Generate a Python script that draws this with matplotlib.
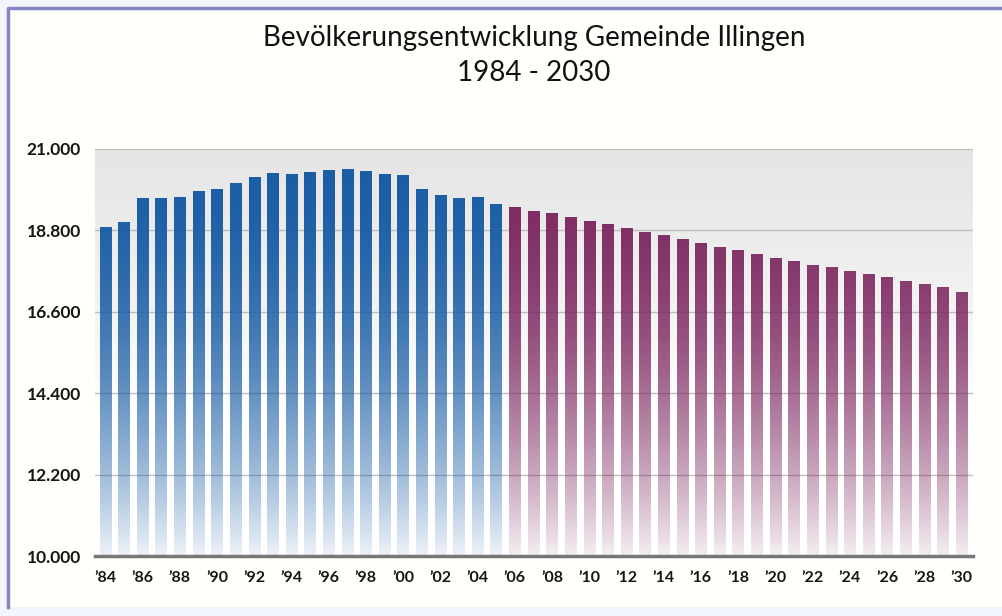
import numpy as np
import matplotlib
matplotlib.use('Agg')
import matplotlib.pyplot as plt
from matplotlib.patches import Rectangle
from matplotlib.lines import Line2D
from matplotlib.colors import to_rgb

# population per year
years = list(range(1984, 2031))
population = [18900, 19020, 19670, 19670, 19690, 19850, 19920, 20090, 20250, 20360,
              20310, 20370, 20415, 20450, 20400, 20310, 20280, 19920, 19765, 19675,
              19710, 19500,
              19440, 19333, 19261, 19171, 19063, 18964, 18874, 18766, 18676, 18568,
              18468, 18360, 18261, 18162, 18063, 17982, 17874, 17802, 17712, 17622,
              17532, 17441, 17342, 17261, 17144]
last_real_year = 2005
y_ticks = [10000, 12200, 14400, 16600, 18800, 21000]
y_tick_labels = ['10.000', '12.200', '14.400', '16.600', '18.800', '21.000']
x_ticks = list(range(1984, 2031, 2))
x_tick_labels = ['\u2019' + str(y)[2:] for y in x_ticks]
title = 'Bevölkerungsentwicklung Gemeinde Illingen\n1984 - 2030'

blue = '#195da5'
purple = '#7d2860'

plt.rcParams['font.family'] = ['Lato', 'DejaVu Sans']

W, H = 1002, 616
fig = plt.figure(figsize=(W / 100, H / 100), dpi=100)
fig.patch.set_facecolor('#f3f5fc')

# white card with a frame on top and left (rest is cut off in the original)
fx0, fy_top, fy_bot = 8 / W, 1 - 8 / H, 1 - 607 / H
fig.patches.append(Rectangle((fx0, fy_bot), 1.0, fy_top - fy_bot, transform=fig.transFigure,
                             facecolor='#fffffb', edgecolor='none', zorder=-10))
fig.lines.append(Line2D([fx0, fx0, 1.0], [fy_bot, fy_top, fy_top], transform=fig.transFigure,
                        color='#8585c4', linewidth=2.5, zorder=-5))

ax = fig.add_axes([0.0948, 0.0974, 0.8758, 0.661])
ax.patch.set_visible(False)
ymin, ymax = 10000, 21000
xlo, xhi = 1983.45, 2030.6

# background gradient (grey top -> white bottom)
t = np.linspace(0, 1, 256)[:, None]
shade = 0.9 + 0.1 * np.clip(t / 0.65, 0, 1) ** 1.2
bg_rgb = np.repeat(shade[:, :, None], 3, axis=2)
ax.imshow(bg_rgb, extent=(xlo, xhi, ymin, ymax), aspect='auto', zorder=0)

for v in y_ticks[1:]:
    ax.axhline(v, color='#bdbdbd', linewidth=1, zorder=1)

bars = ax.bar(years, population, width=0.6, bottom=0, color='none', zorder=2)

def gradient(col):
    r, g, b = to_rgb(col)
    s = np.linspace(0, 1, 256)[:, None]  # 0 at top, 1 at bottom
    a = np.clip(1.0 - s ** 2.0, 0, 1) * 0.92 + 0.08
    img = np.ones((256, 1, 4))
    img[:, :, 0] = r
    img[:, :, 1] = g
    img[:, :, 2] = b
    img[:, :, 3] = a
    return img

grad_blue = gradient(blue)
grad_purple = gradient(purple)

for yr, p in zip(years, bars.patches):
    g = grad_blue if yr <= last_real_year else grad_purple
    x0 = p.get_x()
    im = ax.imshow(g, extent=(x0, x0 + p.get_width(), ymin, ymax), aspect='auto', zorder=3)
    im.set_clip_path(p)

ax.set_xlim(xlo, xhi)
ax.set_ylim(ymin, ymax)

for s in ['top', 'right', 'left']:
    ax.spines[s].set_visible(False)
ax.spines['bottom'].set_color('#777777')
ax.spines['bottom'].set_linewidth(2.5)
ax.spines['bottom'].set_zorder(5)

ax.set_yticks(y_ticks)
ax.set_yticklabels(y_tick_labels)
ax.set_xticks(x_ticks)
ax.set_xticklabels(x_tick_labels)
ax.tick_params(axis='both', length=0, colors='#151515')
ax.tick_params(axis='y', pad=10, labelsize=12.5)
ax.tick_params(axis='x', pad=11, labelsize=11.5)
for lab in ax.get_yticklabels() + ax.get_xticklabels():
    lab.set_fontweight('bold')

ax.set_title(title, fontsize=20, color='#111111', pad=49, linespacing=1.42)

fig.savefig('out.png', dpi=100, facecolor=fig.get_facecolor())
